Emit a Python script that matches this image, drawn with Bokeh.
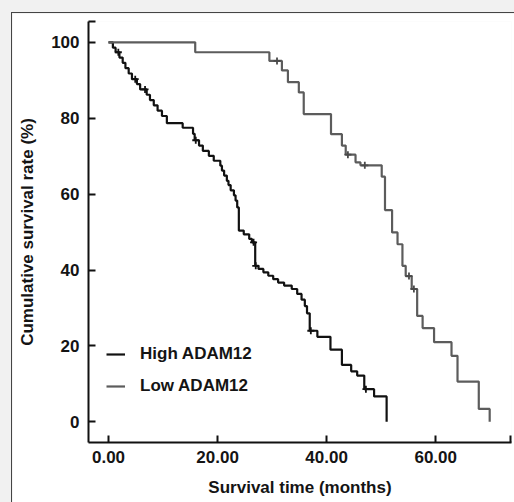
from bokeh.plotting import figure
from bokeh.layouts import column
from bokeh.models import Range1d, FixedTicker, Legend, LegendItem
from bokeh.embed import file_html
from bokeh.resources import INLINE

# ---- data (months, cumulative survival %) ----
high_t = [0, 0.8, 1.3, 2.0, 2.6, 3.1, 3.7, 4.3, 5.2, 5.8, 7.0, 7.6, 8.3, 9.0, 9.8, 10.7,
          13.6, 15.5, 15.8, 16.6, 17.3, 18.4, 19.3, 20.5, 20.8, 21.2, 21.7, 22.0, 22.4,
          23.0, 23.3, 23.6, 23.9, 24.8, 25.8, 26.3, 26.9, 27.5, 28.4, 29.3, 30.2, 31.1,
          32.2, 33.6, 34.6, 35.4, 36.0, 36.4, 36.9, 38.3, 40.7, 42.8, 44.5, 45.6, 46.9,
          48.7, 51.0]
high_s = [100, 98.6, 97.4, 96.0, 94.6, 93.2, 91.8, 90.3, 89.0, 87.6, 86.2, 84.8, 83.4,
          82.0, 80.6, 78.7, 77.5, 75.9, 74.2, 72.8, 71.4, 70.1, 68.8, 67.5, 66.2, 64.9,
          63.5, 62.4, 61.0, 59.7, 58.3, 56.5, 50.4, 49.4, 48.2, 47.3, 41.1, 40.3, 39.4,
          38.5, 37.6, 36.7, 35.9, 35.0, 33.7, 32.2, 30.5, 28.6, 24.0, 22.4, 19.0, 15.0,
          13.3, 12.2, 8.6, 6.7, 0]
high_cens_t = [1.8, 4.9, 6.7, 16.0, 26.6, 27.0, 37.1, 47.2]
high_cens_s = [97.4, 90.3, 87.6, 74.2, 47.3, 41.1, 24.0, 8.6]

low_t = [0, 15.9, 29.5, 31.8, 32.9, 34.9, 35.8, 40.8, 42.8, 43.5, 45.3, 46.2, 50.1,
         50.7, 52.0, 53.0, 53.9, 54.5, 55.6, 56.6, 57.6, 59.7, 62.9, 64.0, 67.9, 69.9]
low_s = [100, 97.4, 95.1, 92.6, 89.5, 86.8, 81.1, 75.8, 72.8, 70.4, 68.4, 67.6, 64.6,
         55.8, 49.9, 46.8, 41.1, 38.4, 35.0, 27.9, 24.7, 21.0, 17.4, 10.6, 3.4, 0]
low_cens_t = [30.9, 43.9, 47.0, 55.1, 56.0]
low_cens_s = [95.1, 70.4, 67.6, 38.4, 35.0]

series_names = ["High ADAM12", "Low ADAM12"]
x_tick_values = [0, 20, 40, 60]
x_tick_labels = ["0.00", "20.00", "40.00", "60.00"]
y_tick_values = [0, 20, 40, 60, 80, 100]
y_tick_labels = ["0", "20", "40", "60", "80", "100"]
x_title = "Survival time (months)"
y_title = "Cumulative survival rate (%)"

X_START, X_END = -3.67, 73.9
Y_START, Y_END = -5.45, 105.5

FONT = "Liberation Sans"
TXT = "#141414"

p = figure(width=503, height=490, output_backend="svg", toolbar_location=None,
           x_range=Range1d(X_START, X_END), y_range=Range1d(Y_START, Y_END),
           min_border_left=76, min_border_right=4, min_border_top=8,
           min_border_bottom=61)
p.margin = (12, 0, 0, 11)
p.styles = {"border-left": "1.5px solid #454545", "border-top": "1.5px solid #454545"}
p.border_fill_color = "white"
p.background_fill_color = "white"
p.outline_line_color = None
p.grid.visible = False

r_high = p.step(high_t, high_s, mode="after", line_color="#111111", line_width=2.2)
r_low = p.step(low_t, low_s, mode="after", line_color="#5c5c5c", line_width=2.2)
p.scatter(high_cens_t, high_cens_s, marker="cross", size=7, line_color="#111111",
          line_width=1.8)
p.scatter(low_cens_t, low_cens_s, marker="cross", size=7, line_color="#4a4a4a",
          line_width=1.8)

# axes with end-cap ticks at the far ends
x_end_tick = X_END - 0.1
p.xaxis.ticker = FixedTicker(ticks=x_tick_values + [x_end_tick])
xo = {v: l for v, l in zip(x_tick_values, x_tick_labels)}
xo[x_end_tick] = ""
p.xaxis.major_label_overrides = xo

y_end_tick = Y_END - 0.1
p.yaxis.ticker = FixedTicker(ticks=y_tick_values + [y_end_tick])
yo = {v: l for v, l in zip(y_tick_values, y_tick_labels)}
yo[y_end_tick] = ""
p.yaxis.major_label_overrides = yo

for ax in (p.xaxis, p.yaxis):
    ax.axis_line_width = 2
    ax.axis_line_color = "#111111"
    ax.major_tick_in = 7
    ax.major_tick_out = 0
    ax.major_tick_line_width = 2
    ax.major_tick_line_color = "#111111"
    ax.minor_tick_line_color = None
    ax.major_label_text_font = FONT
    ax.major_label_text_font_style = "bold"
    ax.major_label_text_font_size = "17px"
    ax.major_label_text_color = TXT
    ax.axis_label_text_font = FONT
    ax.axis_label_text_font_style = "bold"
    ax.axis_label_text_font_size = "17px"
    ax.axis_label_text_color = TXT

p.xaxis.axis_label = x_title
p.yaxis.axis_label = y_title
p.xaxis.major_label_standoff = 8
p.xaxis.axis_label_standoff = 12
p.yaxis.major_label_standoff = 9
p.yaxis.axis_label_standoff = 11

legend = Legend(items=[LegendItem(label=series_names[0], renderers=[r_high]),
                       LegendItem(label=series_names[1], renderers=[r_low])],
                location=(18, 46), padding=0, margin=0, spacing=12,
                glyph_width=19, glyph_height=20, label_height=20, label_standoff=15,
                border_line_color=None, background_fill_alpha=0,
                label_text_font=FONT, label_text_font_style="bold",
                label_text_font_size="17px", label_text_color=TXT)
p.add_layout(legend)

root = column(p, styles={"background-color": "#f1f1f1"})

open("out.html", "w").write(file_html(root, INLINE))
